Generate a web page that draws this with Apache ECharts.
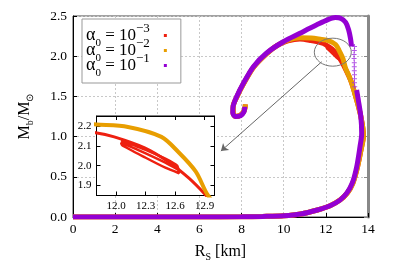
<!DOCTYPE html>
<html><head><meta charset="utf-8">
<script src="https://cdn.jsdelivr.net/npm/echarts@6/dist/echarts.min.js"></script>
<style>html,body{margin:0;padding:0;background:#fff}#c{width:399px;height:279px}</style>
</head><body><div id="c"></div>
<script>
// ---- data ----
const xTicks = [0, 2, 4, 6, 8, 10, 12, 14];
const yTicks = [0, 0.5, 1.0, 1.5, 2.0, 2.5];
const insetXTicks = [12.0, 12.3, 12.6, 12.9];
const insetYTicks = [1.9, 2.0, 2.1, 2.2];
const seriesNames = ['alpha0=1e-3', 'alpha0=1e-2', 'alpha0=1e-1'];
const legendExponents = ['−3', '−2', '−1'];
const colors = ['#ee2010', '#e89e00', '#9400d3'];

// alpha0 = 1e-1 (purple): lower dense part, sparse points, upper dense part
const alpha1Lower = [[0,0],[3,0],[6,0],[8,0.003],[9,0.007],[10,0.015],[10.8,0.037],[11.6,0.087],[12.2,0.14],[12.67,0.21],[13.0,0.3],[13.25,0.42],[13.46,0.62],[13.62,0.875],[13.7,1.04],[13.66,1.25],[13.54,1.455],[13.46,1.58]];
const alpha1Sparse = [[13.37,1.62],[13.36,1.67],[13.36,1.72],[13.36,1.77],[13.35,1.82],[13.35,1.87],[13.35,1.92],[13.34,1.97],[13.34,2.02],[13.35,2.07],[13.36,2.12]];
const alpha1Upper = [[13.22,2.12],[13.17,2.22],[13.08,2.33],[12.94,2.42],[12.72,2.47],[12.45,2.48],[12.1,2.455],[11.57,2.39],[10.77,2.285],[9.98,2.18],[9.19,2.04],[8.56,1.87],[8.08,1.66],[7.77,1.50],[7.6,1.38],[7.58,1.30],[7.7,1.25],[7.95,1.26],[8.12,1.31],[8.15,1.37]];
// alpha0 = 1e-2 (orange)
const alpha2 = [[0,0],[3,0],[6,0],[8,0.003],[9,0.007],[10,0.015],[10.8,0.037],[11.6,0.087],[12.2,0.14],[12.67,0.21],[13.02,0.3],[13.28,0.42],[13.5,0.62],[13.68,0.85],[13.78,1.0],[13.76,1.1],[13.66,1.25],[13.52,1.4],[13.37,1.54],[13.22,1.67],[13.07,1.77],[12.93,1.853],[12.81,1.97],[12.63,2.07],[12.46,2.145],[12.12,2.195],[11.8,2.207],[11.3,2.225],[10.77,2.23],[10.2,2.2],[9.67,2.13],[9.19,2.03],[8.56,1.86],[8.08,1.65],[7.77,1.49],[7.6,1.37],[7.6,1.29],[7.72,1.25],[7.97,1.27],[8.14,1.33],[8.18,1.40]];
// alpha0 = 1e-3 (red)
const alpha3 = [[0,0],[3,0],[6,0],[8,0.003],[9,0.007],[10,0.015],[10.8,0.037],[11.6,0.087],[12.2,0.14],[12.67,0.21],[13.02,0.3],[13.28,0.42],[13.5,0.62],[13.68,0.85],[13.78,1.0],[13.76,1.1],[13.66,1.25],[13.52,1.4],[13.37,1.54],[13.22,1.67],[13.06,1.77],[12.91,1.853],[12.74,1.937],[12.53,2.02],[12.29,2.09],[11.98,2.145],[11.79,2.166],[11.3,2.195],[10.77,2.215],[10.2,2.19],[9.67,2.13],[9.19,2.03],[8.56,1.86],[8.08,1.65],[7.77,1.49],[7.6,1.37],[7.6,1.29],[7.72,1.25],[7.97,1.27],[8.14,1.33],[8.18,1.40]];
const alpha3Loop = [[12.05,2.128],[12.3,2.08],[12.5,2.035],[12.62,2.0],[12.64,1.962],[12.5,1.99],[12.3,2.04],[12.06,2.103],[12.05,2.116],[12.3,2.062],[12.5,2.015],[12.63,1.98]];

// annotation (zoom circle + arrow), in data units of the main axes
const zoomCircleCenter = [12.33, 2.05];
const arrowStart = [11.8, 1.93];
const arrowEnd = [7.02, 0.82];

const SERIF = 'Liberation Serif';
const PLUS = 'path://M4,0H6V4H10V6H6V10H4V6H0V4H4Z';
const chart = echarts.init(document.getElementById('c'), null, {renderer: 'canvas'});

function line(name, data, color, width, axis, z, smooth) {
  return {type: 'line', name: name, data: data, xAxisIndex: axis, yAxisIndex: axis,
    showSymbol: false, smooth: smooth, z: z,
    lineStyle: {width: width, color: color}, itemStyle: {color: color}};
}

const series = [
  line(seriesNames[0], alpha3, colors[0], 5, 0, 2, 0.3),
  line(seriesNames[0], alpha3Loop, colors[0], 3, 0, 2, 0.3),
  line(seriesNames[1], alpha2, colors[1], 5, 0, 3, 0.3),
  line(seriesNames[2], alpha1Lower, colors[2], 5, 0, 4, 0.3),
  line(seriesNames[2], alpha1Upper, colors[2], 5, 0, 4, 0.3),
  {type: 'scatter', name: seriesNames[2], data: alpha1Sparse, xAxisIndex: 0, yAxisIndex: 0, z: 4,
   symbol: PLUS, symbolSize: 5, itemStyle: {color: '#a030e0', opacity: 0.8}},
  line(seriesNames[0], alpha3, colors[0], 3, 1, 6, 0.3),
  line(seriesNames[0], alpha3Loop, colors[0], 2.5, 1, 6, 0.2),
  line(seriesNames[1], alpha2, colors[1], 4, 1, 7, 0.3),
  {type: 'line', data: [], xAxisIndex: 0, yAxisIndex: 0, z: 8,
   markLine: {silent: true, symbol: ['none', 'arrow'], symbolSize: 7, label: {show: false},
     lineStyle: {color: '#666', width: 1, type: 'solid'},
     data: [[{coord: arrowStart}, {coord: arrowEnd}]]}}
];

const option = {
  animation: false,
  backgroundColor: '#fff',
  grid: [
    {left: 73, right: 31, top: 16, bottom: 62, show: true, borderColor: '#444', borderWidth: 1, backgroundColor: 'transparent'},
    {left: 96.5, right: 184.5, top: 116, bottom: 83.5, show: true, borderColor: '#000', borderWidth: 1, backgroundColor: '#fff', z: 3}
  ],
  legend: {
    data: seriesNames, orient: 'vertical', left: 82, top: 19, align: 'right',
    icon: 'rect', itemWidth: 3, itemHeight: 3, itemGap: -11,
    padding: [3.5, 14, 4.5, 4], borderColor: '#999', borderWidth: 1, backgroundColor: '#fff',
    formatter: name => {
      const i = seriesNames.indexOf(name);
      return '{a|α}{s|0}{m| = 10}{p|' + legendExponents[i] + '}';
    },
    textStyle: {
      fontFamily: SERIF, color: '#000',
      rich: {
        a: {fontFamily: SERIF, fontSize: 18, lineHeight: 26, verticalAlign: 'middle', color: '#000'},
        m: {fontFamily: SERIF, fontSize: 17, lineHeight: 26, verticalAlign: 'middle', color: '#000'},
        s: {fontFamily: SERIF, fontSize: 11, lineHeight: 11, verticalAlign: 'bottom', color: '#000'},
        p: {fontFamily: SERIF, fontSize: 13, lineHeight: 13, verticalAlign: 'top', color: '#000', padding: [0, 9, 0, 0]}
      }
    }
  },
  xAxis: [
    {gridIndex: 0, type: 'value', min: xTicks[0], max: xTicks[xTicks.length - 1], interval: 2,
     name: '{m|R}{s|S}{m| [km]}', nameLocation: 'middle', nameGap: 25,
     nameTextStyle: {rich: {m: {fontFamily: SERIF, fontSize: 16, color: '#000', lineHeight: 20, verticalAlign: 'middle'}, s: {fontFamily: SERIF, fontSize: 10, color: '#000', lineHeight: 12, verticalAlign: 'bottom'}}},
     axisLine: {show: true, onZero: false, lineStyle: {color: '#000', width: 1}},
     axisTick: {show: true, inside: true, length: 4, lineStyle: {color: '#000'}},
     axisLabel: {fontFamily: SERIF, fontSize: 13.5, color: '#000', margin: 5, formatter: v => String(v)},
     splitLine: {show: true, lineStyle: {color: '#c8c8c8', type: [2, 2], width: 1}}},
    {gridIndex: 1, type: 'value', min: 11.8, max: 13.0, z: 5,
     axisLine: {show: true, onZero: false, lineStyle: {color: '#000', width: 1}},
     axisTick: {show: true, inside: true, length: 4, customValues: insetXTicks, lineStyle: {color: '#000'}},
     axisLabel: {fontFamily: SERIF, fontSize: 11, color: '#000', margin: 5, customValues: insetXTicks, formatter: v => v.toFixed(1)},
     splitLine: {show: false}},
    {gridIndex: 1, type: 'value', min: 11.8, max: 13.0, position: 'top', z: 5,
     axisLine: {show: true, onZero: false, lineStyle: {color: '#000', width: 1}},
     axisTick: {show: true, inside: true, length: 4, customValues: insetXTicks, lineStyle: {color: '#000'}},
     axisLabel: {show: false}, splitLine: {show: false}}
  ],
  yAxis: [
    {gridIndex: 0, type: 'value', min: yTicks[0], max: yTicks[yTicks.length - 1], interval: 0.5,
     name: '{m|M}{s|b}{m|/M}{s|⊙}', nameLocation: 'middle', nameGap: 38,
     nameTextStyle: {rich: {m: {fontFamily: SERIF, fontSize: 16, color: '#000', lineHeight: 20, verticalAlign: 'middle'}, s: {fontFamily: SERIF, fontSize: 10, color: '#000', lineHeight: 12, verticalAlign: 'bottom'}}},
     axisLine: {show: true, onZero: false, lineStyle: {color: '#000', width: 1}},
     axisTick: {show: true, inside: true, length: 4, lineStyle: {color: '#000'}},
     axisLabel: {fontFamily: SERIF, fontSize: 13.5, color: '#000', margin: 6, formatter: v => v.toFixed(1)},
     splitLine: {show: true, lineStyle: {color: '#c8c8c8', type: [2, 2], width: 1}}},
    {gridIndex: 1, type: 'value', min: 1.85, max: 2.25, z: 5,
     axisLine: {show: true, onZero: false, lineStyle: {color: '#000', width: 1}},
     axisTick: {show: true, inside: true, length: 4, customValues: insetYTicks, lineStyle: {color: '#000'}},
     axisLabel: {fontFamily: SERIF, fontSize: 11, color: '#000', margin: 5, customValues: insetYTicks, formatter: v => v.toFixed(1)},
     splitLine: {show: false}},
    {gridIndex: 0, type: 'value', min: yTicks[0], max: yTicks[yTicks.length - 1], interval: 0.5, position: 'right',
     axisLine: {show: true, onZero: false, lineStyle: {color: '#888', width: 3}},
     axisTick: {show: true, inside: true, length: 4, lineStyle: {color: '#888'}},
     axisLabel: {show: false}, splitLine: {show: false}},
    {gridIndex: 1, type: 'value', min: 1.85, max: 2.25, position: 'right', z: 5,
     axisLine: {show: true, onZero: false, lineStyle: {color: '#000', width: 1}},
     axisTick: {show: true, inside: true, length: 4, customValues: insetYTicks, lineStyle: {color: '#000'}},
     axisLabel: {show: false}, splitLine: {show: false}}
  ],
  series: series
};
chart.setOption(option);

const cc = chart.convertToPixel({gridIndex: 0}, zoomCircleCenter);
chart.setOption({
  graphic: [{type: 'ellipse', shape: {cx: cc[0], cy: cc[1], rx: 18.5, ry: 14},
    style: {fill: 'none', stroke: '#777', lineWidth: 1}, z: 20, silent: true}]
});
</script></body></html>
